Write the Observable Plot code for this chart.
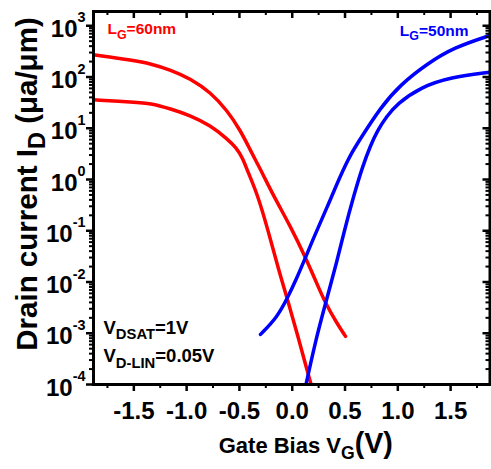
<!DOCTYPE html>
<html><head><meta charset="utf-8">
<script src="https://cdn.jsdelivr.net/npm/d3@7"></script>
<script src="https://cdn.jsdelivr.net/npm/@observablehq/plot@0.6"></script>
<style>
html,body{margin:0;padding:0;background:#fff;overflow:hidden;}
</style></head><body><div id="chart"></div>
<script>
// ---- data (gate bias V, drain current uA/um) ----
const redSatV = [-1.882,-1.5,-1.342,-1.152,-0.963,-0.774,-0.616,-0.490,-0.395,-0.331,-0.281,-0.174,-0.016,0.126,0.221,0.315,0.426,0.505];
const redSatI = [271,210,181,138,92.3,50.5,22.2,9.04,3.68,2.05,1.31,0.466,0.121,0.030,0.0107,0.0038,0.00153,0.00087];
const redLinV = [-1.882,-1.5,-1.342,-1.152,-0.963,-0.774,-0.616,-0.530,-0.470,-0.420,-0.331,-0.237,-0.127,-0.047,0.047,0.142,0.189];
const redLinI = [35.9,32.2,30.8,23.9,17.7,11.3,6.22,4.17,2.63,1.41,0.526,0.117,0.0167,0.00476,0.00098,0.000187,0.0000835];
const blueSatV = [-0.300,-0.142,-0.047,0.047,0.126,0.205,0.331,0.457,0.552,0.647,0.836,1.026,1.278,1.530,1.873];
const blueSatI = [0.00095,0.00206,0.00476,0.0124,0.030,0.0748,0.288,1.20,3.08,6.31,25.4,71.4,181,377,646];
const blueLinV = [0.120,0.221,0.315,0.426,0.489,0.583,0.666,0.741,0.808,0.893,0.994,1.215,1.499,1.873];
const blueLinI = [0.0000794,0.00072,0.0038,0.0263,0.0925,0.488,1.79,4.60,9.04,16.9,30.0,63.2,99.1,124];

// ---- ticks & labels ----
const xTicks = [-1.5,-1.0,-0.5,0,0.5,1.0,1.5];
const xTickLabels = ["-1.5","-1.0","-0.5","0.0","0.5","1.0","1.5"];
const xMinorTicks = [-1.75,-1.25,-0.75,-0.25,0.25,0.75,1.25,1.75];
const yExponents = [-4,-3,-2,-1,0,1,2,3];
const yTickLabels = ["10^{-4}","10^{-3}","10^{-2}","10^{-1}","10^{0}","10^{1}","10^{2}","10^{3}"];
const yMinorMult = [2,3,4,5,6,7,8,9];

const labelRed = "L_{G}=60nm";
const labelBlue = "L_{G}=50nm";
const labelSat = "V_{DSAT}=1V";
const labelLin = "V_{D-LIN}=0.05V";
const yTitle = "Drain current I_{D} (μa/μm)";
const xTitle = "Gate Bias V_{G}!{(V)}";

const W = 491, H = 469, mT = 11, mB = 85, mL = 93, mR = 1.5;
const fw = W - mL - mR, fh = H - mT - mB;
const yTicks = yExponents.map(e => 10 ** e);
const yMinor = [];
yExponents.forEach(e => yMinorMult.forEach(k => { if (k * 10 ** e < 1900) yMinor.push(k * 10 ** e); }));
const rows = (V, I) => V.map((v, i) => ({V: v, I: I[i]}));

const FONT = "'Liberation Sans', Arial, Helvetica, sans-serif";
const lineOpts = {x: "V", y: "I", strokeWidth: 3.5, curve: "basis", clip: true};

const plot = Plot.plot({
  width: W, height: H,
  marginTop: mT, marginBottom: mB, marginLeft: mL, marginRight: mR,
  style: {fontFamily: FONT, fontWeight: "bold", background: "#fff", color: "#000"},
  x: {domain: [-1.882, 1.873], axis: null},
  y: {type: "log", domain: [1e-4, 1897], axis: null},
  marks: [
    Plot.line(rows(redSatV, redSatI), {...lineOpts, stroke: "#ff0000"}),
    Plot.line(rows(redLinV, redLinI), {...lineOpts, stroke: "#ff0000"}),
    Plot.line(rows(blueSatV, blueSatI), {...lineOpts, stroke: "#0000ff"}),
    Plot.line(rows(blueLinV, blueLinI), {...lineOpts, stroke: "#0000ff"}),
    Plot.frame({strokeWidth: 3}),
    // bottom (outward) & top (inward) ticks
    Plot.tickX(xTicks, {x: d => d, insetTop: fh, insetBottom: -7, strokeWidth: 2.5}),
    Plot.tickX(xMinorTicks, {x: d => d, insetTop: fh, insetBottom: -4, strokeWidth: 2}),
    Plot.tickX(xTicks, {x: d => d, insetBottom: fh - 7, strokeWidth: 2.5}),
    Plot.tickX(xMinorTicks, {x: d => d, insetBottom: fh - 4, strokeWidth: 2}),
    // left (outward) & right (inward) ticks
    Plot.tickY(yTicks, {y: d => d, insetLeft: -7, insetRight: fw, strokeWidth: 2.5}),
    Plot.tickY(yMinor, {y: d => d, insetLeft: -4, insetRight: fw, strokeWidth: 2}),
    Plot.tickY(yTicks, {y: d => d, insetLeft: fw - 7, strokeWidth: 2.5}),
    Plot.tickY(yMinor, {y: d => d, insetLeft: fw - 4, strokeWidth: 2}),
    // tick labels
    Plot.text(xTicks, {x: d => d, text: (d, i) => xTickLabels[i], frameAnchor: "bottom", lineAnchor: "bottom", dy: 34, fontSize: 24, fontWeight: "bold", fill: "#000"}),
    Plot.text(yTicks, {y: d => d, text: (d, i) => yTickLabels[i], frameAnchor: "left", textAnchor: "end", lineAnchor: "bottom", dx: -8, dy: 11, fontSize: 24, fontWeight: "bold", fill: "#000", ariaLabel: "ytick"}),
    // annotations
    Plot.text([labelRed], {frameAnchor: "top-left", textAnchor: "start", lineAnchor: "bottom", dx: 14, dy: 22.5, fontSize: 15.5, fontWeight: "bold", fill: "#ff0000", ariaLabel: "lg"}),
    Plot.text([labelBlue], {frameAnchor: "top-right", textAnchor: "end", lineAnchor: "bottom", dx: -21.5, dy: 24, fontSize: 15.5, fontWeight: "bold", fill: "#0000ff", ariaLabel: "lg"}),
    Plot.text([labelSat], {frameAnchor: "bottom-left", textAnchor: "start", lineAnchor: "bottom", dx: 10, dy: -50.7, fontSize: 18.5, fontWeight: "bold", fill: "#000", ariaLabel: "vd"}),
    Plot.text([labelLin], {frameAnchor: "bottom-left", textAnchor: "start", lineAnchor: "bottom", dx: 10, dy: -22.3, fontSize: 18.5, fontWeight: "bold", fill: "#000", ariaLabel: "vd"}),
    // axis titles
    Plot.text([yTitle], {frameAnchor: "left", rotate: -90, textAnchor: "middle", lineAnchor: "bottom", dx: -57, dy: -14, fontSize: 29.5, fontWeight: "bold", fill: "#000", ariaLabel: "ytitle"}),
    Plot.text([xTitle], {frameAnchor: "bottom", textAnchor: "middle", lineAnchor: "bottom", dx: 14, dy: 68, fontSize: 22, fontWeight: "bold", fill: "#000", ariaLabel: "xtitle"})
  ]
});

document.getElementById("chart").appendChild(plot);

// rich text: _{sub}, ^{sup}, !{big}
const richCfg = {
  lg:     {"_": [1.0, 0.45]},
  vd:     {"_": [1.0, 0.36]},
  ytick:  {"^": [0.54, -0.67]},
  ytitle: {"_": [0.9, 0.25]},
  xtitle: {"_": [1.0, 0.5], "!": [1.37, 0.22]}
};
d3.select(plot).selectAll("text").each(function () {
  const raw = this.textContent;
  if (!/[_^!]\{/.test(raw)) return;
  const g = this.closest("g[aria-label]");
  const cfg = richCfg[g ? g.getAttribute("aria-label") : ""] || {"_": [0.8, 0.3], "^": [0.6, -0.6], "!": [1.3, 0]};
  const fs = parseFloat(getComputedStyle(this).fontSize);
  const el = d3.select(this).text(null);
  const re = /([_^!])\{([^}]*)\}|([^_^!{}]+)/g;
  let m, cur = 0;
  while ((m = re.exec(raw))) {
    const ts = el.append("tspan");
    let target = 0;
    if (m[3] !== undefined) {
      ts.text(m[3]);
    } else {
      const [size, shift] = cfg[m[1]] || [1, 0];
      ts.text(m[2]).attr("font-size", (size * fs) + "px");
      target = shift * fs;
    }
    if (target !== cur) ts.attr("dy", target - cur);
    cur = target;
  }
});
</script></body></html>
